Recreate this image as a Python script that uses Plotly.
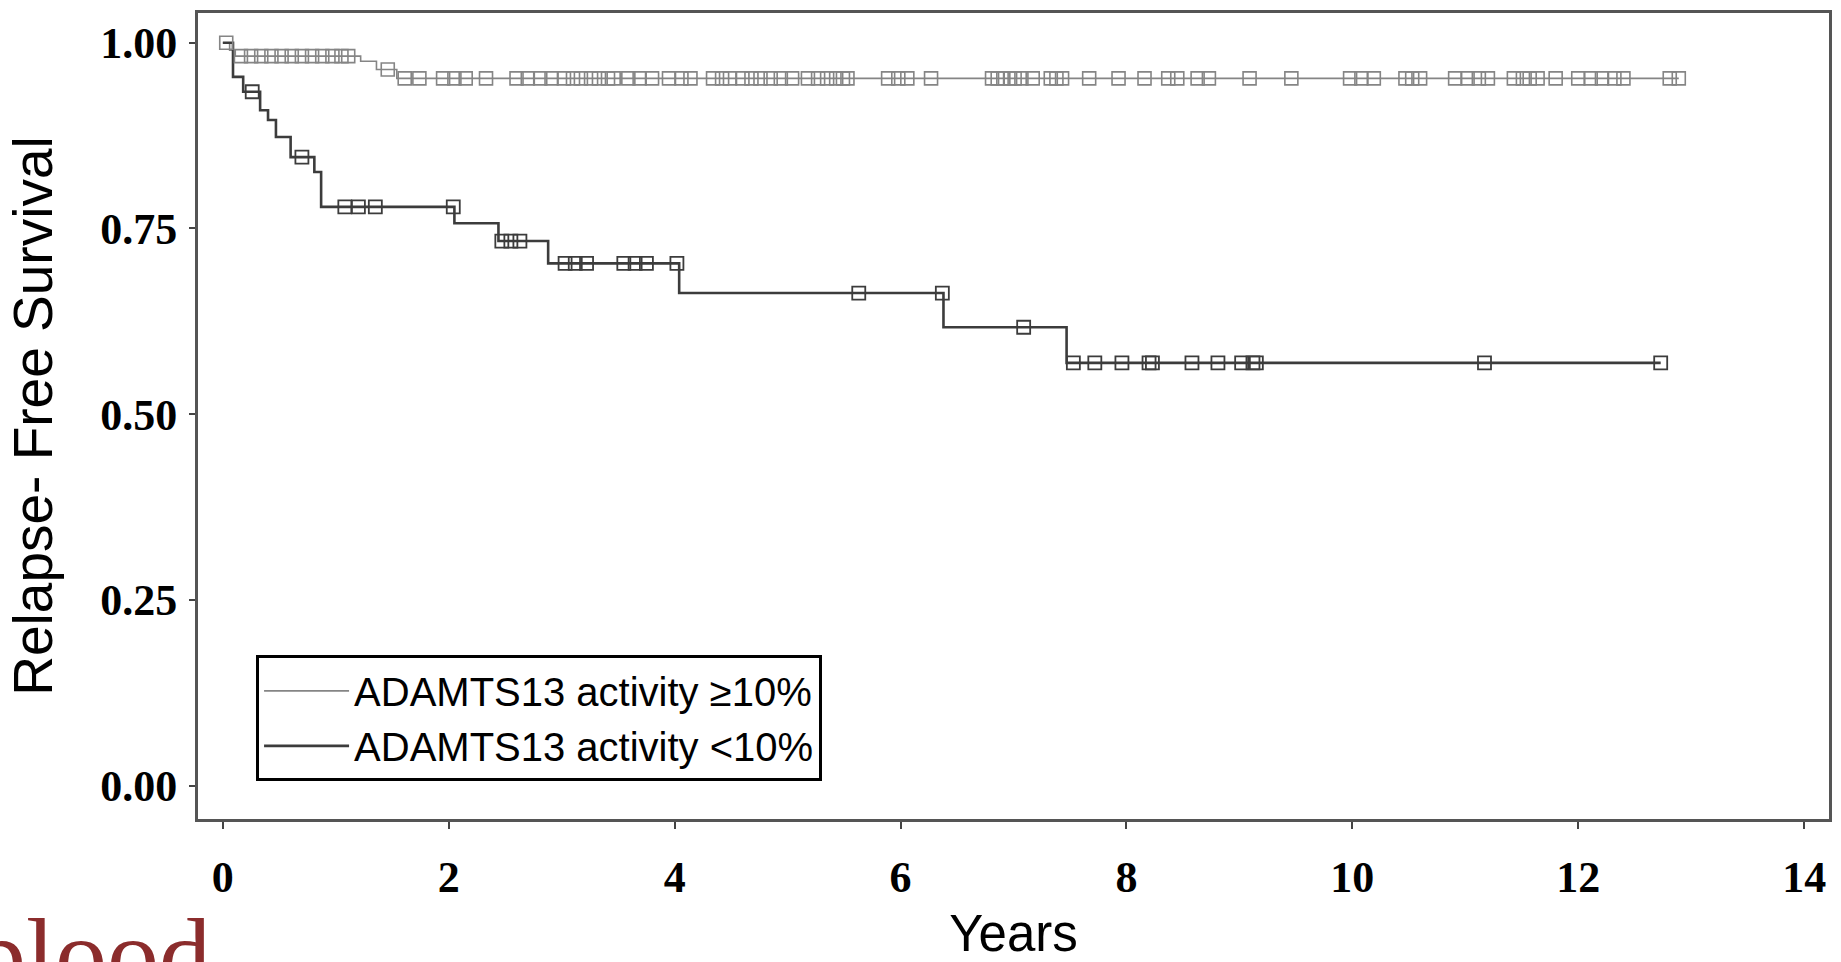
import numpy as np
import plotly.graph_objects as go

# ---------------- data ----------------
# ADAMTS13 activity >=10%  : step curve (event times, survival after event)
hi_times = [0.0, 0.06, 0.11, 1.22, 1.36, 1.54, 12.89]
hi_surv = [1.000, 0.990, 0.982, 0.975, 0.964, 0.952, 0.952]
hi_censor = [0.03, 0.16, 0.25, 0.34, 0.43, 0.52, 0.61, 0.70, 0.79, 0.88, 0.97, 1.05, 1.11,
             1.46, 1.61, 1.74, 1.95, 2.05, 2.15, 2.33, 2.60, 2.70, 2.81, 2.91, 3.02, 3.10,
             3.17, 3.26, 3.33, 3.41, 3.46, 3.59, 3.69, 3.80, 3.95, 4.06, 4.14, 4.34, 4.42,
             4.49, 4.60, 4.68, 4.76, 4.85, 4.94, 5.04, 5.18, 5.27, 5.35, 5.43, 5.49, 5.53,
             5.89, 5.98, 6.06, 6.27, 6.81, 6.86, 6.91, 6.97, 7.01, 7.07, 7.17, 7.33, 7.38,
             7.43, 7.67, 7.93, 8.16, 8.37, 8.45, 8.63, 8.73, 9.09, 9.46, 9.98, 10.08, 10.19,
             10.47, 10.53, 10.60, 10.91, 11.02, 11.12, 11.20, 11.43, 11.51, 11.57, 11.64,
             11.80, 12.00, 12.11, 12.21, 12.32, 12.40, 12.81, 12.89]

# ADAMTS13 activity <10%
lo_times = [0.0, 0.09, 0.18, 0.33, 0.40, 0.47, 0.60, 0.81, 0.87, 2.05, 2.44, 2.88, 4.04,
            6.38, 7.47, 12.73]
lo_surv = [1.000, 0.954, 0.934, 0.909, 0.896, 0.873, 0.846, 0.826, 0.779, 0.757, 0.733,
           0.703, 0.663, 0.617, 0.569, 0.569]
lo_censor = [0.26, 0.70, 1.08, 1.20, 1.35, 2.04, 2.47, 2.55, 2.63, 3.03, 3.12, 3.22, 3.55,
             3.65, 3.75, 4.02, 5.63, 6.37, 7.09, 7.53, 7.72, 7.96, 8.20, 8.23, 8.58, 8.81,
             9.02, 9.12, 9.15, 11.17, 12.73]

x_ticks = [0, 2, 4, 6, 8, 10, 12, 14]
y_ticks = [0.0, 0.25, 0.5, 0.75, 1.0]
y_tick_text = ["0.00", "0.25", "0.50", "0.75", "1.00"]

names = ["ADAMTS13 activity \u226510%", "ADAMTS13 activity <10%"]


def step_lookup(times, surv, pts):
    idx = np.searchsorted(np.asarray(times), np.asarray(pts), side="right") - 1
    return [surv[i] for i in idx]


hi_color = "#858585"
lo_color = "#3c3c3c"

fig = go.Figure()
fig.add_trace(go.Scatter(x=hi_times, y=hi_surv, mode="lines", line_shape="hv",
                         line=dict(color=hi_color, width=1.6), name=names[0]))
fig.add_trace(go.Scatter(x=lo_times, y=lo_surv, mode="lines", line_shape="hv",
                         line=dict(color=lo_color, width=2.6), name=names[1]))
fig.add_trace(go.Scatter(x=hi_censor, y=step_lookup(hi_times, hi_surv, hi_censor),
                         mode="markers", showlegend=False,
                         marker=dict(symbol="square-open", size=13, color=hi_color,
                                     line=dict(width=1.6, color=hi_color))))
fig.add_trace(go.Scatter(x=lo_censor, y=step_lookup(lo_times, lo_surv, lo_censor),
                         mode="markers", showlegend=False,
                         marker=dict(symbol="square-open", size=13, color=lo_color,
                                     line=dict(width=1.8, color=lo_color))))

tickfont = dict(family="Liberation Serif", size=44, color="black", weight="bold")

fig.update_layout(
    width=1841, height=962,
    margin=dict(l=198, r=12, t=13, b=143, autoexpand=False),
    paper_bgcolor="white", plot_bgcolor="white",
    xaxis=dict(range=[-0.22, 14.22], tickvals=x_ticks, ticks="outside", ticklen=7,
               tickwidth=2, tickcolor="#444", showgrid=False, zeroline=False,
               showline=True, linecolor="#555", linewidth=3, mirror=True,
               automargin=False, tickfont=tickfont, ticklabelstandoff=10,
               title=dict(text="Years", standoff=20,
                          font=dict(family="Liberation Sans", size=51, color="black"))),
    yaxis=dict(range=[-0.045, 1.04], tickvals=y_ticks, ticktext=y_tick_text,
               ticks="outside", ticklen=6, tickwidth=2, tickcolor="#444",
               showgrid=False, zeroline=False, showline=True, linecolor="#555",
               linewidth=3, mirror=True, automargin=False,
               tickfont=tickfont, ticklabelstandoff=3,
               title=dict(text="Relapse- Free Survival", standoff=30,
                          font=dict(family="Liberation Sans", size=55, color="black"))),
    legend=dict(x=0.0356, y=0.203, xanchor="left", yanchor="top",
                bgcolor="white", bordercolor="black", borderwidth=3,
                font=dict(family="Liberation Sans", size=40, color="black"),
                itemwidth=85, tracegroupgap=0),
    showlegend=True,
    annotations=[dict(text="blood", xref="paper", yref="paper", x=-0.1386, y=-0.0943,
                      xanchor="left", yanchor="top", showarrow=False,
                      font=dict(family="Liberation Serif", size=104, color="#8b2c2c"))],
)

fig.write_html("out.html", config={"displayModeBar": False},
               post_script="document.body.style.margin='0';")
